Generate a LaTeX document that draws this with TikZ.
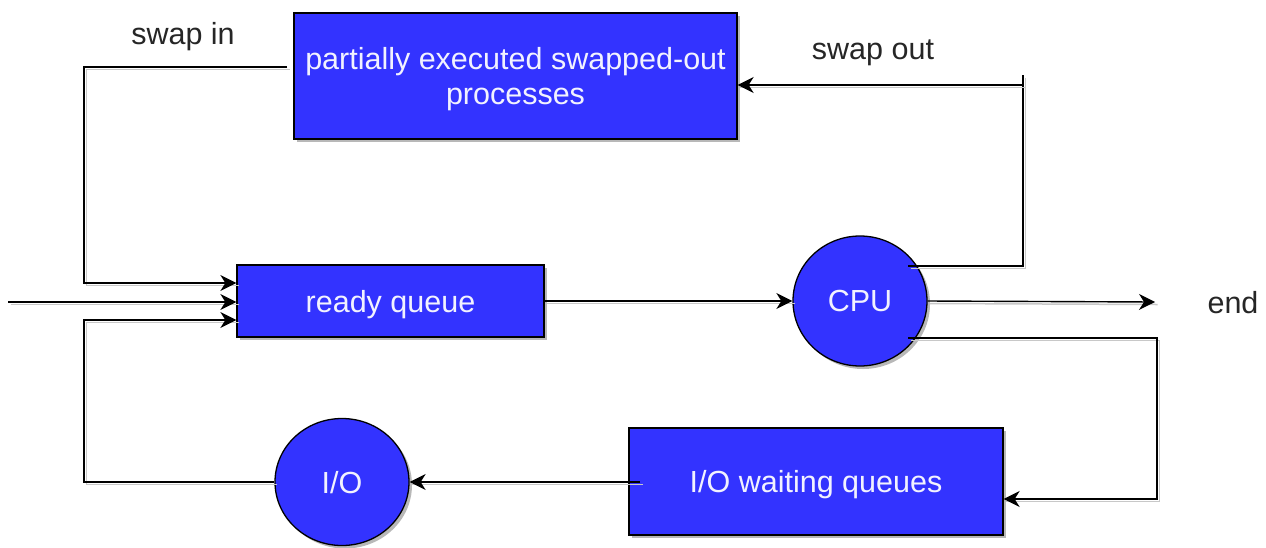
\documentclass[tikz,border=0pt]{standalone}
\usepackage{fontspec}
\setmainfont{Liberation Sans}
\usetikzlibrary{arrows.meta,shapes.geometric,shadows}
\definecolor{boxblue}{HTML}{3333FF}
\definecolor{lineshadow}{HTML}{C8C8C8}
\definecolor{boxtext}{HTML}{F2F2FF}
\begin{document}
\begin{tikzpicture}[x=1pt,y=-1pt,
  every node/.style={font=\fontsize{30.5}{35}\selectfont},
  shape shadow/.style={drop shadow={shadow xshift=3pt,shadow yshift=-3pt,fill=black!35,opacity=0.8}},
  procbox/.style={draw=black,line width=1.3pt,fill=boxblue,text=boxtext,rectangle,inner sep=0pt,align=center,text depth=0pt,shape shadow},
  procell/.style={draw=black,line width=1.3pt,fill=boxblue,text=boxtext,ellipse,inner sep=0pt,text depth=0pt,shape shadow},
  label/.style={text=black!85,inner sep=0pt,text depth=0pt},
  conn/.style={draw=black,line width=1.4pt,
    preaction={draw=lineshadow,line width=1.5pt,-,transform canvas={xshift=2.5pt,yshift=-2.5pt}}},
  arr/.style={conn,-{Stealth[length=16pt,width=16pt,inset=5pt]}}
]
\useasboundingbox (0,0) rectangle (1266,547);

% nodes
\node[procbox,minimum width=443pt,minimum height=126pt] (top) at (515.5,76)
  {partially executed swapped-out\\processes};
\node[procbox,minimum width=307pt,minimum height=72pt] (ready) at (390.5,301) {ready queue};
\node[procell,minimum width=134pt,minimum height=130pt] (cpu) at (860,301) {CPU};
\node[procell,minimum width=134pt,minimum height=127pt] (io) at (342,482) {I/O};
\node[procbox,minimum width=374pt,minimum height=107pt] (iowait) at (816,481.5) {I/O waiting queues};

\node[label] (swapin) at (183,33) {swap in};
\node[label] (swapout) at (873,50) {swap out};
\node[label] (endlbl) at (1233,302) {end};

% free ends
\coordinate (entry) at (8,302);
\coordinate (sinstart) at (287,67);
\coordinate (endtip) at (1155,302);
\coordinate (soutstart) at (908,266);
\coordinate (soutcorner) at (1023,85);
\coordinate (soutstub) at (1023,75);
\coordinate (iostart) at (908,338);
\coordinate (iwstart) at (640,482);

% connectors
\draw[arr] (entry) -- (ready.west |- entry);
\draw[arr] (sinstart) -- (84,67) -- (84,283) -- (ready.west |- 0,283);
\draw[arr] (io.west) -- (84,482) -- (84,320) -- (ready.west |- 0,320);
\draw[arr] (ready.east) -- (cpu.west);
\draw[arr] (cpu.east) -- (endtip);
\draw[conn] (soutstart) -- (1023,266) -- (soutstub);
\draw[arr] (soutcorner) -- (top.east |- soutcorner);
\draw[arr] (iostart) -- (1157,338) -- (1157,499) -- (iowait.east |- 0,499);
\draw[arr] (iwstart) -- (io.east);
\end{tikzpicture}
\end{document}
